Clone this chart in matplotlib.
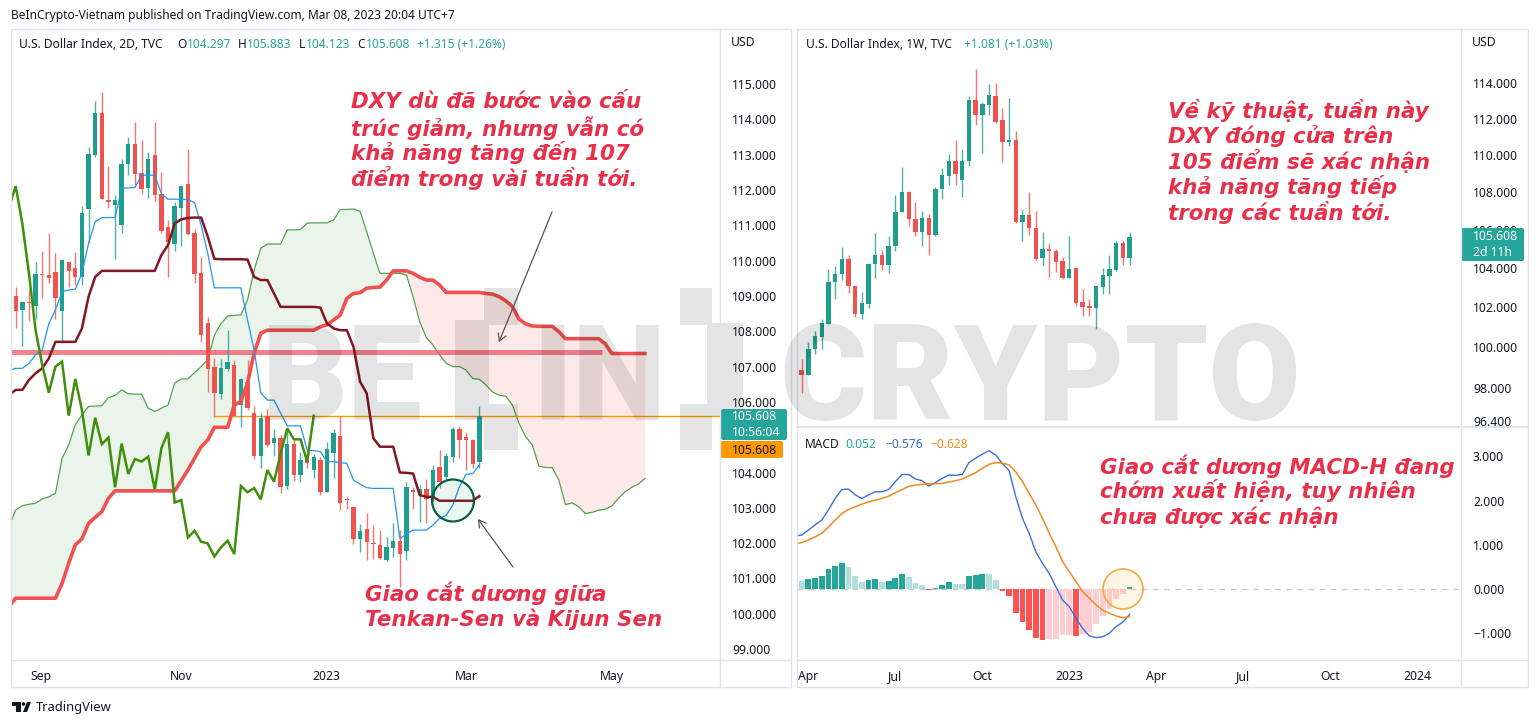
import matplotlib
matplotlib.use("Agg")
import matplotlib.pyplot as plt
import numpy as np
from matplotlib.patches import Rectangle, Circle, FancyBboxPatch, Polygon

plt.rcParams['font.family'] = ['Noto Sans', 'DejaVu Sans']

# 2D chart, one value per candle
d2_open = [109.00,108.60,108.82,108.72,109.62,109.59,109.67,108.58,109.96,109.79,109.54,111.46,112.99,114.18,111.73,111.57,111.01,112.73,113.29,112.47,112.06,112.98,111.88,110.94,110.48,111.50,112.17,110.77,109.64,108.22,106.98,106.22,106.93,107.05,105.91,106.55,105.68,104.47,105.60,104.83,104.97,103.62,104.82,103.92,104.35,104.07,104.34,103.45,104.54,105.03,103.25,103.03,102.13,102.41,102.01,101.96,101.52,101.87,102.06,101.77,103.50,103.36,103.53,103.24,104.16,103.86,104.45,105.22,105.01,104.92,104.297]
d2_close = [108.58,108.83,108.79,109.62,109.58,109.52,108.93,110.01,109.72,109.54,111.35,113.01,114.18,111.74,111.65,111.73,112.73,113.29,112.44,112.04,112.89,111.87,110.85,110.54,111.56,112.12,110.75,109.61,107.90,106.93,106.24,106.96,107.13,105.61,106.65,105.82,104.47,105.54,104.78,104.97,103.58,104.82,103.93,104.35,104.26,104.44,103.45,104.66,105.13,103.13,103.22,102.13,102.34,102.02,101.97,101.57,101.90,102.05,101.68,103.60,103.44,103.53,103.24,104.07,103.74,104.47,105.22,104.92,104.92,104.24,105.608]
d2_high = [109.26,108.86,109.17,109.96,110.27,110.77,110.22,110.02,109.97,110.24,111.55,113.21,114.51,114.78,112.68,111.86,112.88,113.49,113.92,113.41,113.07,113.94,112.52,111.15,111.65,112.12,113.15,110.91,110.11,108.41,107.23,107.22,108.04,107.19,106.69,107.19,105.87,105.68,105.79,105.22,105.06,105.25,104.92,104.58,104.64,104.52,104.43,104.85,105.24,105.61,103.31,103.03,102.53,102.86,102.51,102.37,102.16,102.58,102.37,103.72,103.60,103.66,103.81,104.21,104.63,104.56,105.29,105.33,105.15,104.96,105.883]
d2_low = [108.08,107.59,108.29,108.36,108.93,109.37,108.36,107.66,109.26,109.31,109.31,110.49,112.94,111.74,111.48,110.06,110.79,112.42,112.14,111.90,111.76,111.70,110.77,109.54,110.28,110.42,110.72,109.37,107.70,106.27,105.58,106.07,106.88,105.60,105.30,105.77,104.37,104.12,104.71,104.47,103.43,103.52,103.77,103.72,104.12,103.84,103.35,103.45,103.84,102.94,102.98,101.97,101.76,101.52,101.54,101.54,101.49,101.62,100.77,101.52,102.98,102.61,102.58,103.17,103.55,103.78,104.30,104.40,104.07,104.14,104.123]

# ichimoku lines start one bar left of the first candle
tenkan = [106.90,106.95,106.95,107.09,107.33,107.47,108.22,108.60,109.12,109.17,109.19,109.64,110.49,111.10,111.22,111.22,111.22,112.05,112.06,112.07,112.42,112.42,112.42,111.89,111.74,111.74,111.74,111.73,111.64,111.01,110.20,109.23,109.23,109.23,109.23,109.23,108.32,107.47,106.26,106.05,106.05,105.68,105.32,105.32,105.32,104.64,104.62,104.59,104.31,104.31,104.28,104.26,103.78,103.67,103.57,103.55,103.55,103.55,103.55,102.13,102.26,102.37,102.37,102.37,102.51,102.70,102.79,103.08,103.60,103.95,103.97,104.21]
kijun = [106.20,106.34,106.34,106.62,106.81,106.95,107.23,107.70,107.70,107.70,107.70,108.08,108.98,109.54,109.71,109.71,109.71,109.71,109.71,109.71,109.71,109.71,109.71,110.16,110.44,111.05,111.17,111.21,111.22,111.22,110.68,110.05,110.04,110.04,110.04,110.04,110.03,109.54,109.45,109.45,109.07,108.69,108.69,108.69,108.69,108.69,108.69,108.67,108.22,108.08,108.03,108.03,107.56,106.57,106.24,104.97,104.73,104.73,104.73,104.00,103.99,103.97,103.36,103.31,103.31,103.20,103.20,103.20,103.20,103.20,103.20,103.33]
chikou = [111.53,112.11,111.05,109.64,108.03,107.05,106.26,107.00,107.14,105.61,106.65,105.77,104.48,105.55,104.80,104.99,103.58,104.82,103.96,104.38,104.31,104.45,103.52,104.69,105.14,103.15,103.22,102.16,102.35,102.04,101.99,101.62,101.88,102.07,101.69,103.62,103.44,103.56,103.24,104.07,103.74,104.54,105.25,104.94,104.94,104.31,105.61]
span_a = [102.47,102.94,103.06,103.10,103.13,103.25,103.31,103.41,104.40,104.78,105.35,105.63,105.87,105.88,105.89,106.12,106.18,106.34,106.23,106.22,106.22,105.82,105.73,105.82,105.91,106.53,106.65,106.65,106.83,107.00,107.19,107.89,108.22,108.43,108.45,108.46,108.88,109.73,110.35,110.47,110.47,110.47,110.87,110.87,110.88,111.06,111.07,111.07,111.07,111.15,111.45,111.45,111.46,111.40,110.82,110.21,109.64,109.64,109.64,109.64,109.59,108.98,108.27,107.82,107.61,107.33,107.09,107.00,107.00,106.90,106.66,106.64,106.48,106.28,106.19,106.16,105.91,105.39,105.01,104.78,104.18,104.14,104.14,103.79,103.09,103.14,103.03,102.84,102.87,102.93,102.96,103.05,103.27,103.45,103.58,103.67,103.83]
span_b = [100.20,100.44,100.44,100.44,100.44,100.44,100.44,100.44,100.86,101.43,101.95,102.12,102.56,102.73,102.89,103.27,103.48,103.48,103.48,103.48,103.48,103.48,103.48,103.48,103.48,103.48,103.77,104.07,104.40,104.73,104.92,105.28,105.28,105.28,105.91,106.01,106.53,107.38,107.94,108.03,108.03,108.03,108.03,108.03,108.03,108.03,108.03,108.13,108.18,108.32,108.46,108.93,109.07,109.09,109.22,109.24,109.25,109.45,109.71,109.71,109.71,109.64,109.53,109.45,109.45,109.31,109.10,109.10,109.10,109.10,109.10,109.10,109.07,109.05,108.98,108.86,108.70,108.34,108.21,108.15,108.14,108.14,108.14,107.99,107.79,107.79,107.79,107.79,107.79,107.79,107.65,107.37,107.37,107.37,107.37,107.37,107.37]

level_pink = 107.41
level_last = 105.608
d2_ticks = [115,114,113,112,111,110,109,108,107,106,104,103,102,101,100,99]
d2_tick_pos = [3.8, 25, 46.9, 68.1, 90]
d2_tick_lab = ['Sep', 'Nov', '2023', 'Mar', 'May']

# 1W chart
w_open = [98.87,98.61,99.89,100.51,101.16,103.27,103.70,104.48,103.06,101.66,102.16,104.22,104.66,104.14,105.13,106.91,108.01,106.58,105.86,106.61,105.70,108.16,108.88,109.67,108.64,109.65,113.05,112.21,112.79,113.27,111.91,110.69,110.83,106.42,106.75,106.10,104.50,104.99,104.90,104.36,103.49,103.97,102.23,102.03,101.95,103.01,103.59,103.87,105.30,104.53]
w_close = [98.61,99.92,100.54,101.17,103.27,103.71,104.48,103.05,101.66,102.18,104.22,104.66,104.14,105.16,106.93,108.01,106.56,105.86,106.61,105.70,108.17,108.89,109.67,108.98,109.67,113.05,112.21,112.81,113.33,111.84,110.69,110.83,106.42,106.75,106.07,104.48,104.99,104.87,104.33,103.49,103.95,102.19,101.98,101.95,103.05,103.63,103.93,105.31,104.53,105.608]
w_high = [99.42,100.25,100.79,101.38,103.95,104.09,105.07,104.66,103.06,102.77,104.26,105.82,104.95,105.65,107.85,109.34,108.07,107.46,106.97,106.82,108.26,109.28,110.05,110.83,110.32,113.27,114.80,112.94,113.95,113.99,112.57,113.18,111.29,107.02,108.01,106.99,105.87,105.30,105.00,104.57,105.68,103.97,102.93,102.43,103.06,104.00,104.69,105.38,105.40,105.89]
w_low = [97.76,98.61,99.64,99.89,101.16,102.42,103.40,102.72,101.51,101.38,101.93,103.49,103.88,103.75,104.87,106.91,106.17,105.65,105.13,104.69,105.65,107.63,108.37,108.39,107.72,109.41,111.63,110.10,112.21,111.78,109.59,110.47,106.35,105.38,105.70,104.43,104.14,103.52,103.80,103.45,103.49,102.05,101.55,101.55,100.88,102.67,102.64,103.82,104.14,104.16]
w_ticks = [114,112,110,108,106,104,102,100,98,96.4]
w_tick_pos = [0.94, 13.9, 26.95, 39.95, 52.95, 66, 79, 92]
w_tick_lab = ['Apr', 'Jul', 'Oct', '2023', 'Apr', 'Jul', 'Oct', '2024']

# MACD pane, histogram per candle, lines start one bar earlier
macd_hist = [0.17,0.22,0.26,0.30,0.45,0.52,0.59,0.49,0.30,0.16,0.20,0.23,0.16,0.17,0.26,0.35,0.27,0.14,0.08,-0.03,0.02,0.09,0.15,0.12,0.11,0.30,0.32,0.34,0.33,0.20,-0.04,-0.16,-0.54,-0.75,-0.93,-1.10,-1.16,-1.14,-1.13,-1.04,-1.03,-1.06,-1.02,-0.98,-0.79,-0.60,-0.45,-0.23,-0.12,0.052]
macd_line = [1.20,1.22,1.33,1.45,1.56,1.79,2.05,2.25,2.26,2.13,2.05,2.13,2.20,2.20,2.25,2.43,2.59,2.59,2.49,2.45,2.33,2.41,2.50,2.58,2.57,2.59,2.86,2.96,3.05,3.13,3.03,2.84,2.68,2.09,1.60,1.26,0.84,0.58,0.35,0.05,-0.25,-0.40,-0.66,-0.89,-1.06,-1.10,-1.08,-1.00,-0.85,-0.75,-0.576]
macd_signal = [1.02,1.05,1.11,1.18,1.26,1.40,1.56,1.71,1.80,1.86,1.92,1.97,2.01,2.05,2.10,2.18,2.25,2.32,2.35,2.37,2.38,2.38,2.39,2.42,2.45,2.49,2.56,2.63,2.73,2.82,2.86,2.85,2.81,2.65,2.43,2.16,1.90,1.60,1.26,0.96,0.62,0.39,0.17,-0.06,-0.21,-0.36,-0.48,-0.55,-0.61,-0.65,-0.628]
macd_ticks = [3, 2, 1, 0, -1]

UP = '#1f9e8d'
DOWN = '#ef5350'
GRID = '#e0e3eb'
TEXT = '#131722'
TEAL = '#26a69a'
NOTE = '#e8304a'
W, H = 1540, 726


def px_axes(x0, y0, x1, y1):
    return fig.add_axes([x0 / W, 1 - y1 / H, (x1 - x0) / W, (y1 - y0) / H])


def draw_candles(ax, o, h, l, c):
    xs = np.arange(len(o))
    o, h, l, c = map(np.array, (o, h, l, c))
    colors = [UP if b > a else DOWN for a, b in zip(o, c)]
    ax.vlines(xs, l, h, colors=colors, lw=1.0, alpha=0.8, zorder=3)
    ax.bar(xs, np.abs(c - o), bottom=np.minimum(o, c), width=0.66, color=colors, lw=0, zorder=4)


def style_price(ax, ticks, fmt='{:.3f}', pad=8):
    ax.yaxis.tick_right()
    ax.set_yticks(ticks)
    ax.set_yticklabels([fmt.format(t).replace('-', '\u2212') for t in ticks], fontsize=8.8, color=TEXT)
    ax.minorticks_off()
    ax.tick_params(axis='y', length=0, pad=pad)
    for s in ax.spines.values():
        s.set_visible(False)
    ax.patch.set_alpha(0)


def style_time(ax, pos, labs):
    ax.set_xticks(pos)
    ax.set_xticklabels(labs, fontsize=8.8, color=TEXT)
    for t, lab in zip(ax.get_xticklabels(), labs):
        if lab.isdigit():
            t.set_fontweight('bold')
    ax.tick_params(axis='x', length=0, pad=7)


fig = plt.figure(figsize=(W / 100, H / 100), dpi=100, facecolor='white')

# left panel
ax = px_axes(11, 29, 720, 660)
ax.set_xlim(-0.71, 106.34)
ax.set_ylim(98.69, 116.56)
xs_line = np.arange(-1, 96)
ax.fill_between(xs_line, span_a, span_b, where=np.array(span_a) >= np.array(span_b),
                interpolate=True, color='#43a047', alpha=0.11, lw=0, zorder=1)
ax.fill_between(xs_line, span_a, span_b, where=np.array(span_a) <= np.array(span_b),
                interpolate=True, color='#f44336', alpha=0.11, lw=0, zorder=1)
ax.plot(xs_line, span_a, color='#4fa24f', lw=0.9, zorder=2)
ax.plot(xs_line, span_b, color='#f05050', lw=2.6, zorder=5, solid_joinstyle='round')
ax.hlines(level_pink, -1, 88.5, color='#f0606e', lw=3.6, alpha=0.8, zorder=2)
ax.hlines(level_last, 30, 107, color='#ff9800', lw=1.0, zorder=2)
draw_candles(ax, d2_open, d2_high, d2_low, d2_close)
ax.plot(np.arange(-1, 71), tenkan, color='#2196f3', lw=0.9, zorder=5)
ax.plot(np.arange(-1, 71), kijun, color='#801922', lw=1.8, zorder=5)
ax.plot(np.arange(-1, 46), chikou, color='#3f8f0c', lw=1.8, zorder=5, solid_joinstyle='miter')
style_price(ax, d2_ticks, pad=8.6)
style_time(ax, d2_tick_pos, d2_tick_lab)

# right panel, price
ax2 = px_axes(797, 29, 1461, 427)
ax2.set_yscale('log')
ax2.set_xlim(-0.70, 98.55)
ax2.set_ylim(96.10, 117.10)
draw_candles(ax2, w_open, w_high, w_low, w_close)
style_price(ax2, w_ticks, pad=8.6)
ax2.set_xticks([])

# right panel, macd
ax3 = px_axes(797, 427, 1461, 660)
ax3.set_xlim(-0.70, 98.55)
ax3.set_ylim(-1.606, 3.665)
hist = np.array(macd_hist)
hist_colors = []
for i, v in enumerate(hist):
    rising = i > 0 and v > hist[i - 1]
    if v >= 0:
        hist_colors.append('#26a69a' if rising else '#b2dfdb')
    else:
        hist_colors.append('#ffcdd2' if rising else '#ff5252')
ax3.axhline(0, color='#c8c8c8', lw=1, ls=(0, (4, 4)), zorder=1)
ax3.bar(np.arange(len(hist)), hist, width=0.86, color=hist_colors, lw=0, zorder=2)
ax3.plot(np.arange(-1, 50), macd_line, color='#3d6fd8', lw=1.0, zorder=3)
ax3.plot(np.arange(-1, 50), macd_signal, color='#ef8a1f', lw=1.1, zorder=3)
style_price(ax3, macd_ticks, pad=8.6)
style_time(ax3, w_tick_pos, w_tick_lab)

# overlay in picture pixels: frames, boxes, notes, watermark
ov = fig.add_axes([0, 0, 1, 1], zorder=10)
ov.set_xlim(0, W)
ov.set_ylim(H, 0)
ov.axis('off')

for x0, y0, x1, y1 in [(11, 29, 791, 687), (797, 29, 1528, 687)]:
    ov.add_patch(Rectangle((x0, y0), x1 - x0, y1 - y0, fill=False, ec=GRID, lw=1))
ov.plot([11, 791], [660, 660], color=GRID, lw=1)
ov.plot([720, 720], [29, 687], color=GRID, lw=1)
ov.plot([797, 1528], [660, 660], color=GRID, lw=1)
ov.plot([797, 1528], [427, 427], color=GRID, lw=1.5)
ov.plot([1461, 1461], [29, 687], color=GRID, lw=1)

# watermark, bracket shapes are part of the logo
WM = (0, 0, 0, 0.105)
wm = dict(color=WM, fontweight='black', family='Roboto', va='baseline', ha='center', zorder=1)
ov.text(342, 420, 'BE', fontsize=96, **wm)
ov.text(599, 420, 'IN', fontsize=96, **wm)
ov.text(1040, 420, 'CRYPTO', fontsize=96, **wm)
ov.add_patch(Polygon([(455, 320), (484, 320), (484, 288), (518, 288), (518, 325), (489, 325), (489, 404),
                      (518, 404), (518, 450), (484, 450), (484, 420), (455, 420)],
                     closed=True, fc=WM, lw=0, joinstyle='round'))
ov.add_patch(Polygon([(680, 288), (712, 288), (712, 323), (743, 323), (743, 416), (712, 416), (712, 450),
                      (680, 450), (680, 404), (707, 404), (707, 325), (680, 325)],
                     closed=True, fc=WM, lw=0, joinstyle='round'))

ov.add_patch(Circle((453, 500.5), 21, fc='#0a8a5a', alpha=0.08, lw=0))
ov.add_patch(Circle((453, 500.5), 21, fill=False, ec='#0b5d48', lw=1.6))
ov.add_patch(Circle((1123, 589), 20, fc='#ffb74d', alpha=0.13, lw=0))
ov.add_patch(Circle((1123, 589), 20, fill=False, ec='#f0ab40', lw=1.2))

arrow = dict(arrowstyle='->,head_length=0.5,head_width=0.3', color='#555555', lw=0.9, shrinkA=0, shrinkB=0)
ov.annotate('', xy=(499, 342), xytext=(552, 212), arrowprops=arrow)
ov.annotate('', xy=(478, 519), xytext=(513, 567), arrowprops=arrow)

note = dict(color=NOTE, fontsize=15.4, style='italic', fontweight='bold', family='DejaVu Sans', va='center', ha='left')
for y, s in zip([102, 128, 152, 178], ['DXY dù đã bước vào cấu', 'trúc giảm, nhưng vẫn có', 'khả năng tăng đến 107', 'điểm trong vài tuần tới.']):
    ov.text(351, y, s, **note)
for y, s in zip([111, 136, 161, 187, 212], ['Về kỹ thuật, tuần này', 'DXY đóng cửa trên', '105 điểm sẽ xác nhận', 'khả năng tăng tiếp', 'trong các tuần tới.']):
    ov.text(1168, y, s, **note)
for y, s in zip([466, 491, 517], ['Giao cắt dương MACD-H đang', 'chớm xuất hiện, tuy nhiên', 'chưa được xác nhận']):
    ov.text(1100, y, s, **note)
for y, s in zip([593, 619], ['Giao cắt dương giữa', 'Tenkan-Sen và Kijun Sen']):
    ov.text(365, y, s, **note)

# last price tags
ov.add_patch(FancyBboxPatch((721, 409), 66, 31, boxstyle='round,pad=0,rounding_size=2', fc=TEAL, lw=0))
ov.add_patch(FancyBboxPatch((720, 441), 63, 17, boxstyle='round,pad=0,rounding_size=2', fc='#ff9800', lw=0))
ov.add_patch(FancyBboxPatch((1461, 228), 63, 33, boxstyle='round,pad=0,rounding_size=2', fc=TEAL, lw=0))
tag = dict(fontsize=8.8, va='center', ha='left')
ov.text(732, 417, '105.608', color='white', **tag)
ov.text(732, 432, '10:56:04', color='white', **tag)
ov.text(732, 450, '105.608', color=TEXT, **tag)
ov.text(1473, 237, '105.608', color='white', **tag)
ov.text(1473, 252, '2d 11h', color='white', **tag)
ov.text(731, 43, 'USD', color=TEXT, **tag)
ov.text(1472, 43, 'USD', color=TEXT, **tag)

# headers
head = dict(fontsize=8.6, va='center', ha='left')
ov.text(11, 16, 'BeInCrypto-Vietnam published on TradingView.com, Mar 08, 2023 20:04 UTC+7', color=TEXT, **head)
ov.text(19, 45, 'U.S. Dollar Index, 2D, TVC', color=TEXT, **head)
for x, k, v, off in [(177, 'O', '104.297', 10), (238, 'H', '105.883', 9), (299, 'L', '104.123', 7), (357, 'C', '105.608', 9)]:
    ov.text(x, 45, k, color=TEXT, **head)
    ov.text(x + off, 45, v, color=TEAL, **head)
ov.text(417, 45, '+1.315 (+1.26%)', color=TEAL, **head)
ov.text(806, 45, 'U.S. Dollar Index, 1W, TVC', color=TEXT, **head)
ov.text(964, 45, '+1.081 (+1.03%)', color=TEAL, **head)
ov.text(805, 444, 'MACD', color=TEXT, **head)
ov.text(845, 444, '0.052', color=TEAL, **head)
ov.text(885, 444, '\u22120.576', color='#3d6fd8', **head)
ov.text(930, 444, '\u22120.628', color='#ef8a1f', **head)

# footer mark
ov.add_patch(Rectangle((12, 702), 9, 4, fc=TEXT, lw=0))
ov.add_patch(Rectangle((16, 702), 5, 10, fc=TEXT, lw=0))
ov.add_patch(Circle((23.5, 704), 1.8, fc=TEXT, lw=0))
ov.add_patch(Polygon([(27, 702), (31, 702), (27, 712), (23, 712)], fc=TEXT, lw=0))
ov.text(36, 707, 'TradingView', color=TEXT, fontsize=9.3, va='center', ha='left')

fig.savefig('out.png', dpi=100)
